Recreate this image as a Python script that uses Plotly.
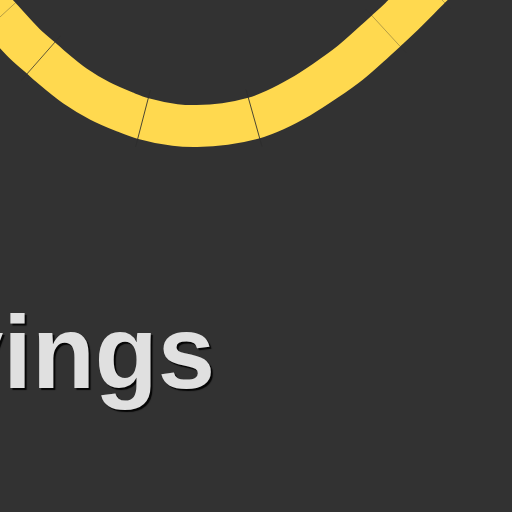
import numpy as np
import plotly.graph_objects as go

# ---- data ----
curve_x = [-60, -20, 0, 25, 41, 50, 75, 100, 125, 143, 175, 197,
           225, 254, 275, 300, 325, 350, 375, 386, 400, 430, 460, 500]
curve_y = [-50, -5, 17, 44, 58, 66, 86, 101, 112, 118.5, 125, 126,
           124, 118, 110, 97, 81, 63, 41, 31, 18, -12, -42, -84]
segment_breaks = [0, 41, 143, 254, 386, 430]
seam_strength = [0.35, 0.75, 0.85, 0.85, 0.35, 0.3]
title_text = "Savings"

BG = "#323232"
YELLOW = "#FFD94F"

cx = np.array(curve_x, dtype=float)
cy = np.array(curve_y, dtype=float)
# local direction of the band at each data point (screen coords, y down)
gx = np.gradient(cx)
gy = np.gradient(cy)
ang = np.degrees(np.arctan2(gy, gx))
idx = [curve_x.index(b) for b in segment_breaks]

fig = go.Figure()
fig.add_trace(go.Scatter(
    x=curve_x, y=curve_y, mode="lines",
    line=dict(color=YELLOW, width=42, shape="spline", smoothing=1.0, simplify=False),
    hoverinfo="skip",
))
fig.add_trace(go.Scatter(
    x=[curve_x[i] for i in idx], y=[curve_y[i] for i in idx], mode="markers",
    marker=dict(symbol="line-ns", size=42, angle=[float(ang[i]) for i in idx],
                line=dict(width=1, color=[f"rgba(45,45,45,{s})" for s in seam_strength])),
    hoverinfo="skip",
))

fig.add_annotation(
    x=217, y=352, xref="x", yref="y", xanchor="right", yanchor="middle",
    text=title_text, showarrow=False,
    font=dict(family="Liberation Sans, Arial, sans-serif", size=103, color="#e0e0e0",
              weight="bold", shadow="2px 2px 1px rgba(0,0,0,0.9)"),
)

fig.update_layout(
    width=512, height=512,
    margin=dict(l=0, r=0, t=0, b=0),
    paper_bgcolor=BG, plot_bgcolor=BG,
    showlegend=False,
    xaxis=dict(range=[0, 512], visible=False, fixedrange=True),
    yaxis=dict(range=[512, 0], visible=False, fixedrange=True),
)

fig.write_html(
    "out.html",
    config={"displayModeBar": False, "staticPlot": True},
    post_script="document.body.style.margin='0';document.body.style.overflow='hidden';"
                "document.body.style.background='" + BG + "';",
)
